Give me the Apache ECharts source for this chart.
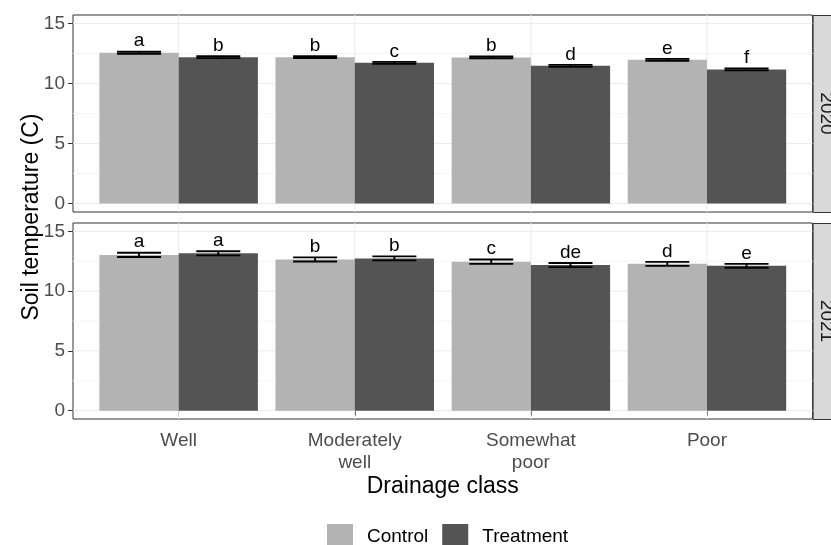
<!DOCTYPE html>
<html>
<head>
<meta charset="utf-8">
<script src="https://cdn.jsdelivr.net/npm/echarts@6/dist/echarts.min.js"></script>
<style>
  html, body { margin: 0; padding: 0; background: #ffffff; }
  #chart { width: 831px; height: 545px; }
</style>
</head>
<body>
<div id="chart"></div>
<script>
// Drainage classes along the x axis
const categories = ['Well', 'Moderately\nwell', 'Somewhat\npoor', 'Poor'];
const years = ['2020', '2021'];
const groups = ['Control', 'Treatment'];

// Mean soil temperature (C) and its standard error, per drainage class
const control2020 = [12.56, 12.19, 12.17, 11.97];
const controlSe2020 = [0.08, 0.07, 0.07, 0.08];
const treatment2020 = [12.19, 11.72, 11.47, 11.17];
const treatmentSe2020 = [0.08, 0.08, 0.08, 0.08];

const control2021 = [13.03, 12.65, 12.46, 12.28];
const controlSe2021 = [0.18, 0.17, 0.18, 0.17];
const treatment2021 = [13.16, 12.74, 12.18, 12.12];
const treatmentSe2021 = [0.17, 0.17, 0.17, 0.16];

// Compact letter display above each bar
const letters2020Control = ['a', 'b', 'b', 'e'];
const letters2020Treatment = ['b', 'c', 'd', 'f'];
const letters2021Control = ['a', 'b', 'c', 'd'];
const letters2021Treatment = ['a', 'b', 'de', 'e'];

// Axis ticks and grid lines
const yTicks = [0, 5, 10, 15];
const yMinor = [2.5, 7.5, 12.5];

const FONT = '"Liberation Sans", Arial, Helvetica, sans-serif';
const DODGE = 0.9;     // total width taken by the two bars of a class
const WHISKER = 0.25;  // error bar cap width, in category units
const COLORS = { Control: '#b3b3b3', Treatment: '#545454' };

const panels = [
  { year: years[0], top: 15, height: 197,
    control: control2020, controlSe: controlSe2020, controlLetters: letters2020Control,
    treatment: treatment2020, treatmentSe: treatmentSe2020, treatmentLetters: letters2020Treatment },
  { year: years[1], top: 223, height: 196,
    control: control2021, controlSe: controlSe2021, controlLetters: letters2021Control,
    treatment: treatment2021, treatmentSe: treatmentSe2021, treatmentLetters: letters2021Treatment }
];

const GRID_LEFT = 73;
const GRID_WIDTH = 739.6;

function barRenderer(side, color, letters) {
  return function (params, api) {
    const x = api.value(0);
    const m = api.value(1);
    const se = api.value(2);
    const left = side < 0 ? x - DODGE / 2 : x;
    const right = side < 0 ? x : x + DODGE / 2;
    const c = x + side * DODGE / 4;
    const p0 = api.coord([left, 0]);
    const p1 = api.coord([right, m]);
    const hi = api.coord([c, m + se]);
    const lo = api.coord([c, m - se]);
    const half = api.size([WHISKER / 2, 0])[0];
    const lineStyle = { stroke: '#000000', lineWidth: 1.9 };
    return {
      type: 'group',
      children: [
        { type: 'rect', shape: { x: p0[0], y: p1[1], width: p1[0] - p0[0], height: p0[1] - p1[1] },
          style: { fill: color } },
        { type: 'line', shape: { x1: hi[0], y1: hi[1], x2: lo[0], y2: lo[1] }, style: lineStyle },
        { type: 'line', shape: { x1: hi[0] - half, y1: hi[1], x2: hi[0] + half, y2: hi[1] }, style: lineStyle },
        { type: 'line', shape: { x1: lo[0] - half, y1: lo[1], x2: lo[0] + half, y2: lo[1] }, style: lineStyle },
        { type: 'text', x: hi[0], y: hi[1] - 1,
          style: { text: letters[params.dataIndex], fill: '#000000', font: '19px ' + FONT,
                   textAlign: 'center', textVerticalAlign: 'bottom' } }
      ]
    };
  };
}

function hLineRenderer(color) {
  return function (params, api) {
    const cs = params.coordSys;
    const y = api.coord([1, api.value(0)])[1];
    return { type: 'line', shape: { x1: cs.x, y1: y, x2: cs.x + cs.width, y2: y },
             style: { stroke: color, lineWidth: 1 }, silent: true };
  };
}

function vLineRenderer(color) {
  return function (params, api) {
    const cs = params.coordSys;
    const x = api.coord([api.value(0), 0])[0];
    return { type: 'line', shape: { x1: x, y1: cs.y, x2: x, y2: cs.y + cs.height },
             style: { stroke: color, lineWidth: 1 }, silent: true };
  };
}

const grids = [], xAxes = [], yAxes = [], series = [], graphics = [];
const catPositions = categories.map((_, i) => i + 1);

panels.forEach((p, k) => {
  const isBottom = k === panels.length - 1;
  grids.push({ left: GRID_LEFT, top: p.top, width: GRID_WIDTH, height: p.height,
               show: true, borderColor: '#333333', borderWidth: 1, backgroundColor: '#ffffff',
               containLabel: false, outerBoundsMode: 'none' });
  xAxes.push({
    type: 'value', gridIndex: k, min: 0.4, max: 4.6,
    axisLine: { show: false },
    splitLine: { show: false },
    axisTick: { show: isBottom, customValues: catPositions, length: 5,
                lineStyle: { color: '#333333', width: 1 } },
    axisLabel: { show: isBottom, customValues: catPositions, margin: 11,
                 formatter: v => categories[Math.round(v) - 1] || '',
                 color: '#4d4d4d', fontSize: 19, fontFamily: FONT, lineHeight: 22 },
    name: isBottom ? 'Drainage class' : '',
    nameLocation: 'middle', nameGap: 52,
    nameTextStyle: { color: '#000000', fontSize: 23, fontFamily: FONT }
  });
  yAxes.push({
    type: 'value', gridIndex: k, min: -0.7, max: 15.7,
    axisLine: { show: false },
    splitLine: { show: false },
    axisTick: { show: true, customValues: yTicks, length: 5,
                lineStyle: { color: '#333333', width: 1 } },
    axisLabel: { customValues: yTicks, margin: 8, color: '#4d4d4d', fontSize: 19, fontFamily: FONT }
  });

  series.push({ type: 'custom', xAxisIndex: k, yAxisIndex: k, z: 1, silent: true,
                renderItem: hLineRenderer('#f4f4f4'), data: yMinor.map(v => [v]) });
  series.push({ type: 'custom', xAxisIndex: k, yAxisIndex: k, z: 1, silent: true,
                renderItem: hLineRenderer('#ebebeb'), data: yTicks.map(v => [v]) });
  series.push({ type: 'custom', xAxisIndex: k, yAxisIndex: k, z: 1, silent: true,
                renderItem: vLineRenderer('#ebebeb'), data: catPositions.map(v => [v]) });

  series.push({ type: 'custom', name: groups[0], xAxisIndex: k, yAxisIndex: k, z: 3,
                itemStyle: { color: COLORS.Control },
                renderItem: barRenderer(-1, COLORS.Control, p.controlLetters),
                data: p.control.map((v, i) => [i + 1, v, p.controlSe[i]]) });
  series.push({ type: 'custom', name: groups[1], xAxisIndex: k, yAxisIndex: k, z: 3,
                itemStyle: { color: COLORS.Treatment },
                renderItem: barRenderer(1, COLORS.Treatment, p.treatmentLetters),
                data: p.treatment.map((v, i) => [i + 1, v, p.treatmentSe[i]]) });

  // facet strip on the right of the panel
  graphics.push({ type: 'rect', left: GRID_LEFT + GRID_WIDTH, top: p.top,
                  shape: { width: 30, height: p.height },
                  style: { fill: '#d9d9d9', stroke: '#333333', lineWidth: 1 } });
  graphics.push({ type: 'text', x: GRID_LEFT + GRID_WIDTH + 14, y: p.top + p.height / 2,
                  rotation: -Math.PI / 2,
                  style: { text: p.year, fill: '#1a1a1a', font: '19px ' + FONT,
                           textAlign: 'center', textVerticalAlign: 'middle' } });
});

graphics.push({ type: 'text', x: 32, y: 217, rotation: Math.PI / 2,
                style: { text: 'Soil temperature (C)', fill: '#000000', font: '23px ' + FONT,
                         textAlign: 'center', textVerticalAlign: 'middle' } });

const chart = echarts.init(document.getElementById('chart'), null, { renderer: 'canvas' });
chart.setOption({
  animation: false,
  backgroundColor: '#ffffff',
  textStyle: { fontFamily: FONT },
  grid: grids,
  xAxis: xAxes,
  yAxis: yAxes,
  legend: {
    data: groups, left: 322, top: 519, orient: 'horizontal',
    icon: 'rect', itemWidth: 26, itemHeight: 26, itemGap: 14,
    textStyle: { color: '#000000', fontSize: 19, fontFamily: FONT, padding: [0, 0, 0, 9] }
  },
  graphic: graphics,
  series: series
});
</script>
</body>
</html>
